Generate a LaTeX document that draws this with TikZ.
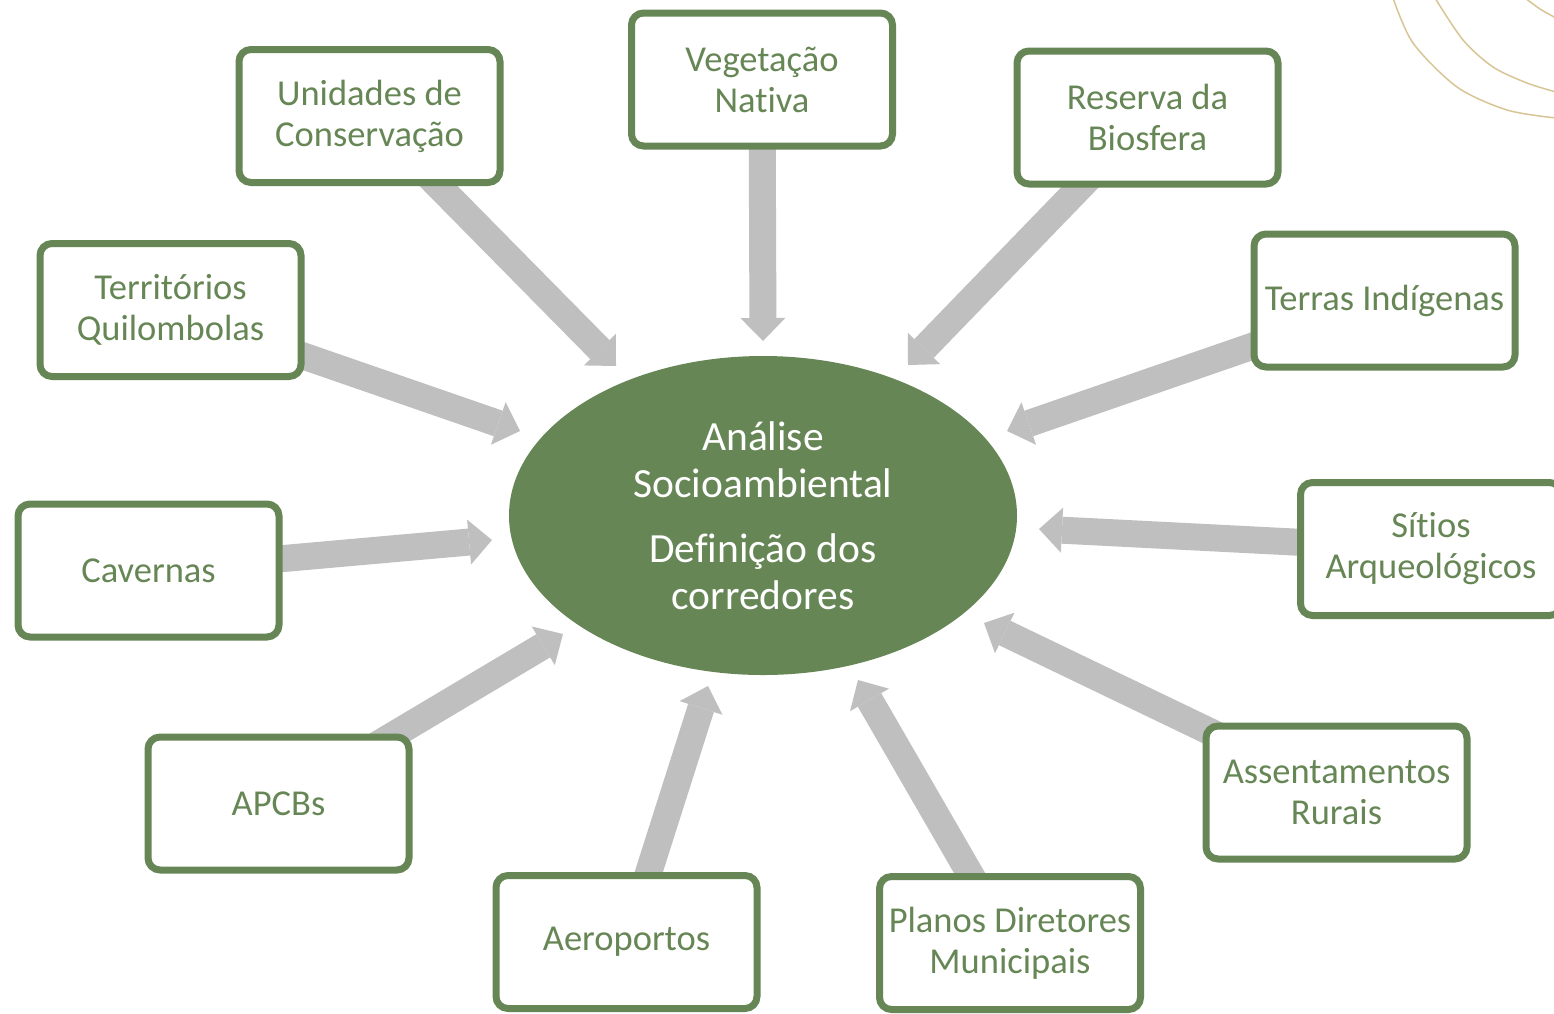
\documentclass[tikz,border=0pt]{standalone}
\usepackage{fontspec}
\setmainfont{Carlito}[Ligatures=NoCommon]
\usetikzlibrary{arrows.meta,shapes.geometric}
\definecolor{grn}{HTML}{668755}
\definecolor{arr}{HTML}{BFBFBF}
\definecolor{tanline}{HTML}{D8C595}
\begin{document}
\begin{tikzpicture}[x=1pt,y=-1pt,
  box/.style={draw=grn, line width=7pt, rounded corners=12pt, fill=white,
    minimum width=261pt, minimum height=133pt, inner sep=0pt, align=center,
    text=grn, font=\fontsize{36.5}{41}\selectfont},
  feed/.style={draw=arr, line width=27pt,
    -{Triangle[width=45pt,length=23pt,line width=0pt]}},
  deco/.style={draw=tanline, line width=1.5pt}]
\useasboundingbox (0,0) rectangle (1554,1013);
\begin{scope}
\clip (0,0) rectangle (1554,1013);
\fill[white] (0,0) rectangle (1554,1013);
% decorative arcs
\draw[deco] plot[smooth] coordinates {(1393,-2) (1413,43) (1457,87) (1507,110) (1556,118)};
\draw[deco] plot[smooth] coordinates {(1435,-2) (1463,40) (1493,67) (1527,83) (1556,92)};
\draw[deco] plot[smooth] coordinates {(1525,-2) (1540,9) (1556,18)};

% central ellipse
\node[ellipse, fill=grn, minimum width=508pt, minimum height=319pt, inner sep=0pt,
  align=center, text=white, font=\fontsize{41.5}{47}\selectfont] (ctr) at (763,515.5)
  {Análise\\Socioambiental\\[18pt]Definição dos\\corredores};

% tip coordinates
\coordinate (tu) at (616,366);
\coordinate (tv) at (763,341);
\coordinate (tr) at (908,365);
\coordinate (tq) at (520,431);
\coordinate (ti) at (1007,431);
\coordinate (tc) at (492,540);
\coordinate (ts) at (1039,529);
\coordinate (ta) at (563,634);
\coordinate (tae) at (708,686);
\coordinate (tp) at (858,680);
\coordinate (tas) at (984,623);

% box centres
\path
  (369.5,116) coordinate (pu)
  (762,79.5) coordinate (pv)
  (1147.5,117.5) coordinate (pr)
  (170.5,310) coordinate (pq)
  (1384.5,300.5) coordinate (pi)
  (148.5,570.5) coordinate (pc)
  (1431,549) coordinate (ps)
  (278.5,803.5) coordinate (pa)
  (626.5,942) coordinate (pae)
  (1010,943) coordinate (pp)
  (1336.5,792.5) coordinate (pas);

% arrows (under the boxes)
\draw[feed] (pu) -- (tu);
\draw[feed] (pv) -- (tv);
\draw[feed] (pr) -- (tr);
\draw[feed] (pq) -- (tq);
\draw[feed] (pi) -- (ti);
\draw[feed] (pc) -- (tc);
\draw[feed] (ps) -- (ts);
\draw[feed] (pa) -- (ta);
\draw[feed] (pae) -- (tae);
\draw[feed] (pp) -- (tp);
\draw[feed] (pas) -- (tas);

% boxes
\node[box] (u) at (pu) {Unidades de\\Conservação};
\node[box] (v) at (pv) {Vegetação\\Nativa};
\node[box] (r) at (pr) {Reserva da\\Biosfera};
\node[box] (q) at (pq) {Territórios\\Quilombolas};
\node[box] (i) at (pi) {Terras Indígenas};
\node[box] (c) at (pc) {Cavernas};
\node[box] (s) at (ps) {Sítios\\Arqueológicos};
\node[box] (a) at (pa) {APCBs};
\node[box] (ae) at (pae) {Aeroportos};
\node[box] (p) at (pp) {Planos Diretores\\Municipais};
\node[box] (as) at (pas) {Assentamentos\\Rurais};
\end{scope}
\end{tikzpicture}
\end{document}
